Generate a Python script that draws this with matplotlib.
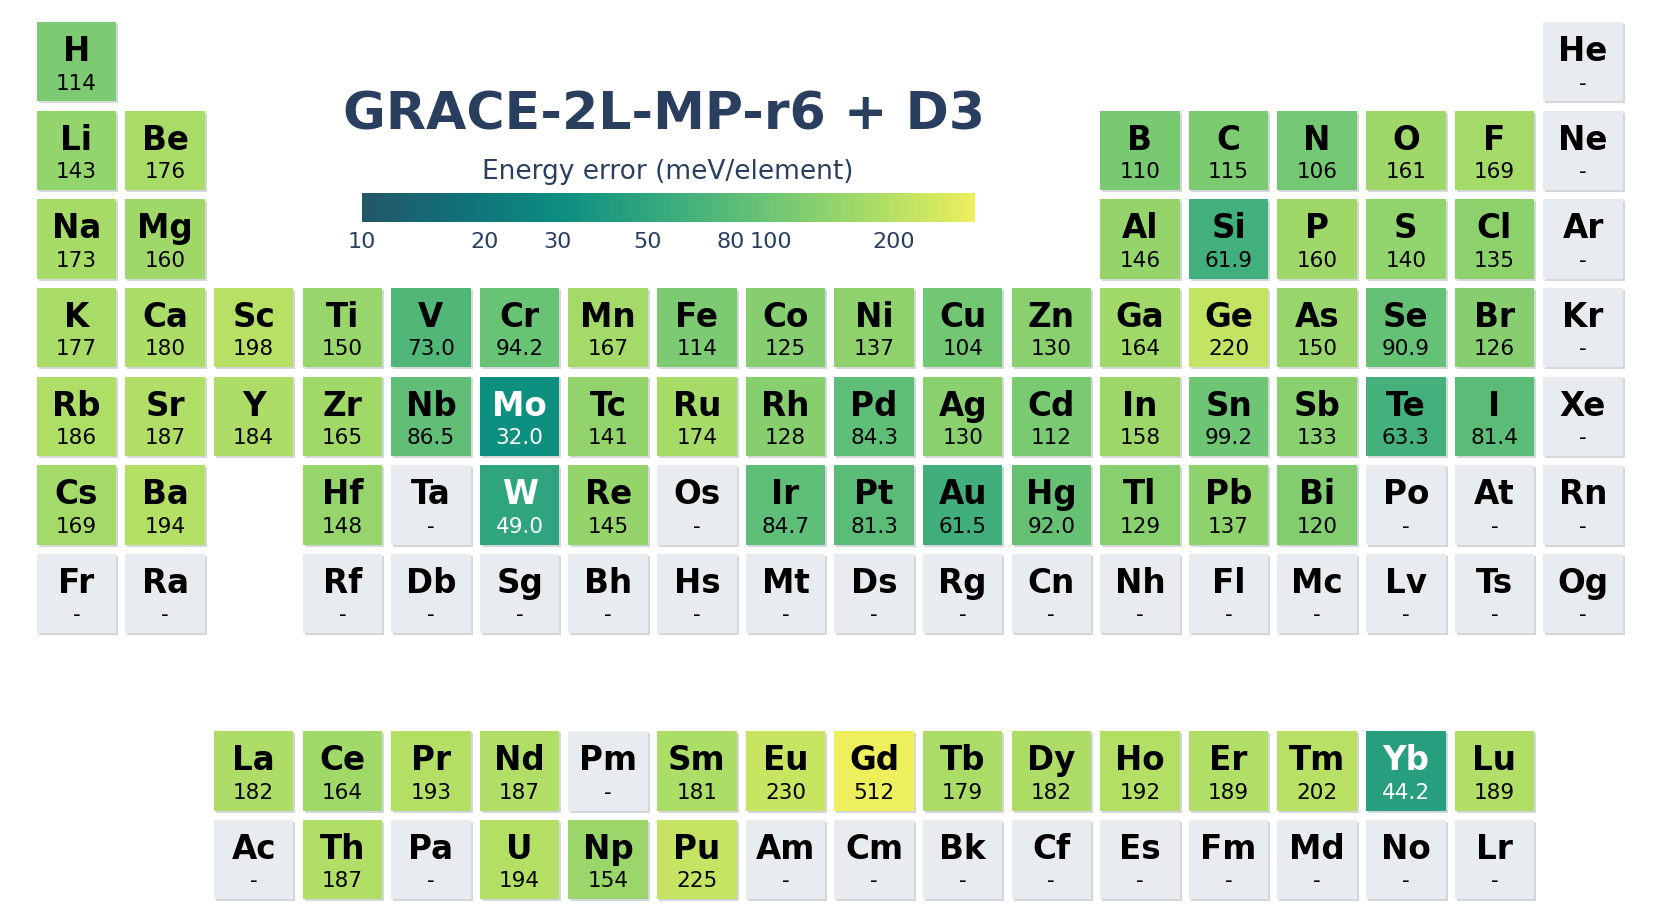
"""
Periodic table heatmap of per-element energy errors
"""

import numpy as np
import matplotlib
matplotlib.use("Agg")
import matplotlib.pyplot as plt
import matplotlib.colors as mc
from matplotlib.patches import Rectangle

# periodic table layout, one string per row ('.' = no element there)
table_rows = [
    "H  .  .  .  .  .  .  .  .  .  .  .  .  .  .  .  .  He",
    "Li Be .  .  .  .  .  .  .  .  .  .  B  C  N  O  F  Ne",
    "Na Mg .  .  .  .  .  .  .  .  .  .  Al Si P  S  Cl Ar",
    "K  Ca Sc Ti V  Cr Mn Fe Co Ni Cu Zn Ga Ge As Se Br Kr",
    "Rb Sr Y  Zr Nb Mo Tc Ru Rh Pd Ag Cd In Sn Sb Te I  Xe",
    "Cs Ba .  Hf Ta W  Re Os Ir Pt Au Hg Tl Pb Bi Po At Rn",
    "Fr Ra .  Rf Db Sg Bh Hs Mt Ds Rg Cn Nh Fl Mc Lv Ts Og",
    ".  .  .  .  .  .  .  .  .  .  .  .  .  .  .  .  .  .",
    ".  .  La Ce Pr Nd Pm Sm Eu Gd Tb Dy Ho Er Tm Yb Lu .",
    ".  .  Ac Th Pa U  Np Pu Am Cm Bk Cf Es Fm Md No Lr .",
]

# energy error in meV/element (elements not listed have no data)
elements = ["H", "Li", "Be", "B", "C", "N", "O", "F",
            "Na", "Mg", "Al", "Si", "P", "S", "Cl",
            "K", "Ca", "Sc", "Ti", "V", "Cr", "Mn", "Fe", "Co", "Ni", "Cu", "Zn",
            "Ga", "Ge", "As", "Se", "Br",
            "Rb", "Sr", "Y", "Zr", "Nb", "Mo", "Tc", "Ru", "Rh", "Pd", "Ag", "Cd",
            "In", "Sn", "Sb", "Te", "I",
            "Cs", "Ba", "Hf", "W", "Re", "Ir", "Pt", "Au", "Hg", "Tl", "Pb", "Bi",
            "La", "Ce", "Pr", "Nd", "Sm", "Eu", "Gd", "Tb", "Dy", "Ho", "Er", "Tm",
            "Yb", "Lu", "Th", "U", "Np", "Pu"]
errors = [114, 143, 176, 110, 115, 106, 161, 169,
          173, 160, 146, 61.9, 160, 140, 135,
          177, 180, 198, 150, 73.0, 94.2, 167, 114, 125, 137, 104, 130,
          164, 220, 150, 90.9, 126,
          186, 187, 184, 165, 86.5, 32.0, 141, 174, 128, 84.3, 130, 112,
          158, 99.2, 133, 63.3, 81.4,
          169, 194, 148, 49.0, 145, 84.7, 81.3, 61.5, 92.0, 129, 137, 120,
          182, 164, 193, 187, 181, 230, 512, 179, 182, 192, 189, 202,
          44.2, 189, 187, 194, 154, 225]

cbar_ticks = [10, 20, 30, 50, 80, 100, 200]
title = "GRACE-2L-MP-r6 + D3"
cbar_title = "Energy error (meV/element)"

# carto "Aggrnyl" colour scale
aggrnyl = ["#245668", "#0f7279", "#0d8f81", "#39ab7e", "#6ec574", "#a9dc67", "#edef5d"]
cmap = mc.LinearSegmentedColormap.from_list("aggrnyl", aggrnyl)
norm = mc.LogNorm(vmin=10, vmax=10 ** 2.5, clip=True)

font_color = "#2a3f5f"
empty_color = "#e9ecef"
shadow_color = "#d3d6da"


def main():
    err = dict(zip(elements, errors))

    fig = plt.figure(figsize=(16.61, 9.23), dpi=100)
    ax = fig.add_axes([0.01935, 0.0207, 0.9604, 0.9605])
    ax.set_xlim(0.5, 18.5)
    ax.set_ylim(10.5, 0.5)
    ax.axis("off")

    size = 0.897
    for r, line in enumerate(table_rows, start=1):
        for c, sym in enumerate(line.split(), start=1):
            if sym == ".":
                continue
            val = err.get(sym)
            x0, y0 = c - size / 2, r - size / 2
            # soft drop shadow
            ax.add_patch(Rectangle((x0 + 0.022, y0 + 0.022), size, size,
                                   facecolor=shadow_color, edgecolor="none", zorder=1))
            if val is None:
                face = empty_color
                label = "-"
                txt = "black"
            else:
                face = cmap(norm(val))
                label = "{0:.0f}".format(val) if val >= 100 else "{0:.1f}".format(val)
                txt = "white" if val < 55 else "black"
            ax.add_patch(Rectangle((x0, y0), size, size, facecolor=face,
                                   edgecolor="none", zorder=2))
            ax.text(c, r - 0.006, sym, ha="center", va="baseline", fontsize=23.5,
                    fontweight="bold", color=txt, zorder=3)
            ax.text(c, r + 0.314, label, ha="center", va="baseline", fontsize=15.5,
                    color=txt, zorder=3)

    # title
    fig.text(664 / 1661, 1 - 129 / 923, title, ha="center", va="baseline",
             fontsize=37.5, fontweight="bold", color=font_color)

    # colorbar
    cax = fig.add_axes([362 / 1661, 1 - 222 / 923, 613 / 1661, 29 / 923])
    sm = plt.cm.ScalarMappable(norm=norm, cmap=cmap)
    cbar = fig.colorbar(sm, cax=cax, orientation="horizontal", ticks=cbar_ticks)
    cbar.ax.set_xticklabels([str(t) for t in cbar_ticks])
    cbar.ax.minorticks_off()
    cbar.ax.tick_params(length=0, pad=7.5, labelsize=16, labelcolor=font_color)
    cbar.outline.set_visible(False)
    fig.text(668 / 1661, 1 - 179 / 923, cbar_title, ha="center", va="baseline",
             fontsize=19, color=font_color)

    fig.savefig("out.png", dpi=100)


if __name__ == "__main__":
    main()
